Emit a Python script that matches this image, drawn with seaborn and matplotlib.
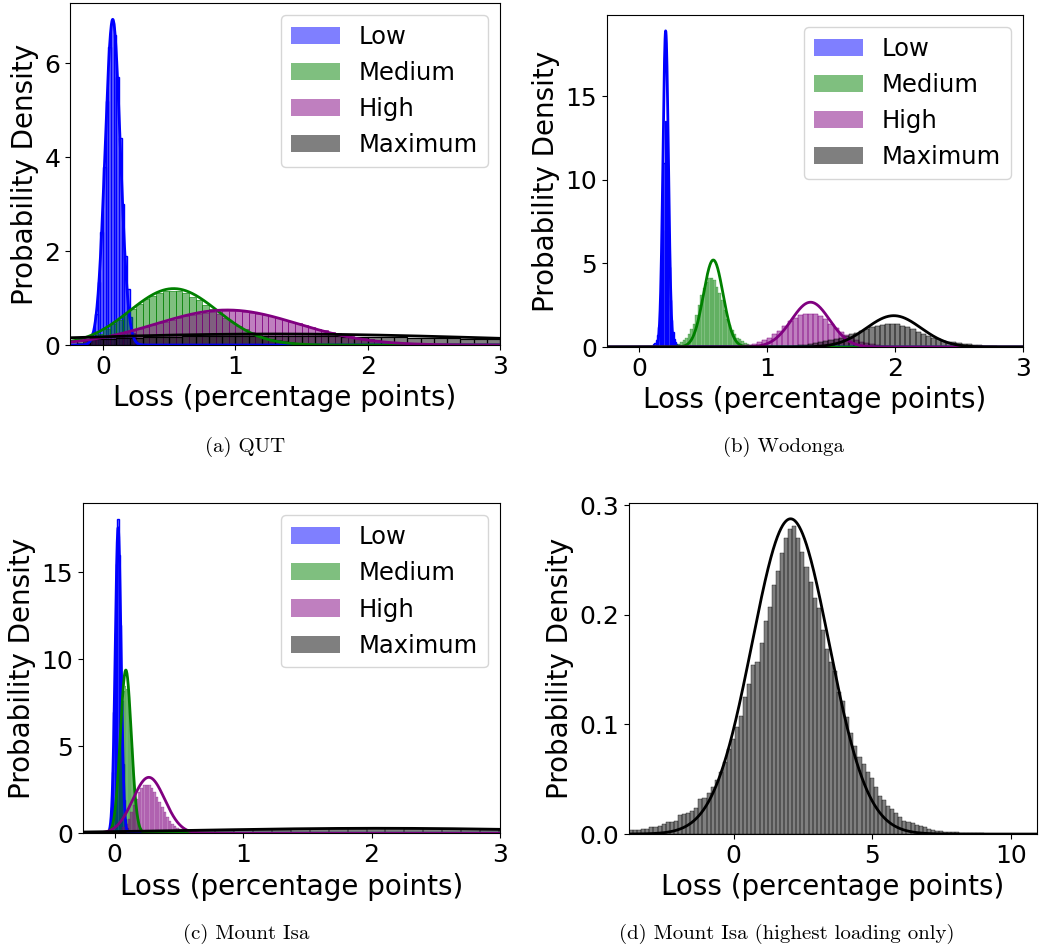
import numpy as np
import matplotlib
matplotlib.use('Agg')
import matplotlib.pyplot as plt
import seaborn as sns

levels = ['Low', 'Medium', 'High', 'Maximum']
colours = ['blue', 'green', 'purple', 'black']

# histogram data: first bin edge, bin width, density of each bin
# (a) QUT
qut_start = [-0.12, -0.20, -0.15, -0.30]
qut_width = [0.02, 0.05, 0.05, 0.10]
qut_low = [0.03, 0.10, 0.28, 0.65, 1.35, 2.4, 3.8, 5.2, 6.35, 6.85, 6.6, 5.7, 4.4, 3.0, 1.9, 1.2,
           0.6, 0.25, 0.08, 0.03]
qut_medium = [0.05, 0.09, 0.15, 0.24, 0.34, 0.44, 0.54, 0.65, 0.76, 0.87, 0.97, 1.05, 1.11, 1.15,
              1.16, 1.14, 1.10, 1.03, 0.95, 0.86, 0.76, 0.67, 0.58, 0.49, 0.41, 0.34, 0.28, 0.22,
              0.17, 0.13, 0.10, 0.08, 0.06, 0.04, 0.03, 0.02, 0.01]
qut_high = [0.08, 0.10, 0.13, 0.16, 0.19, 0.22, 0.26, 0.30, 0.34, 0.38, 0.42, 0.46, 0.50, 0.54,
            0.58, 0.61, 0.64, 0.67, 0.69, 0.71, 0.72, 0.73, 0.73, 0.72, 0.71, 0.69, 0.67, 0.64,
            0.61, 0.58, 0.54, 0.50, 0.46, 0.42, 0.38, 0.34, 0.31, 0.28, 0.25, 0.22, 0.19, 0.16,
            0.14, 0.12, 0.10, 0.08, 0.065, 0.05, 0.04, 0.03, 0.025, 0.02, 0.015]
qut_max = [0.10, 0.11, 0.12, 0.13, 0.14, 0.15, 0.16, 0.17, 0.18, 0.185, 0.19, 0.195, 0.20, 0.20,
           0.20, 0.20, 0.20, 0.198, 0.195, 0.19, 0.185, 0.18, 0.175, 0.17, 0.165, 0.16, 0.155,
           0.15, 0.145, 0.14, 0.135, 0.13, 0.125, 0.12]
qut_fit_mean = [0.073, 0.533, 0.937, 1.3]
qut_fit_sd = [0.0575, 0.332, 0.535, 1.7]

# (b) Wodonga
wod_start = [0.10, 0.28, 0.80, 1.20]
wod_width = [0.01, 0.02, 0.04, 0.04]
wod_low = [0.08, 0.15, 0.25, 0.4, 0.7, 1.2, 2.2, 4.0, 7.0, 11.0, 13.5, 12.0, 8.0, 4.8, 2.8, 1.6,
           0.9, 0.5, 0.3, 0.18, 0.1, 0.05]
wod_medium = [0.12, 0.18, 0.28, 0.4, 0.55, 0.8, 1.1, 1.4, 1.9, 2.5, 3.1, 3.5, 3.9, 4.1, 4.15, 4.0,
              3.6, 3.2, 2.8, 2.2, 1.7, 1.3, 1.0, 0.75, 0.55, 0.45, 0.33, 0.25, 0.18, 0.12, 0.08,
              0.05]
wod_high = [0.1, 0.14, 0.2, 0.3, 0.4, 0.55, 0.75, 0.95, 1.25, 1.55, 1.75, 1.92, 1.98, 2.0, 1.96,
            1.84, 1.65, 1.4, 1.15, 0.92, 0.72, 0.55, 0.42, 0.3, 0.22, 0.15, 0.1, 0.06, 0.04]
wod_max = [0.08, 0.1, 0.13, 0.17, 0.22, 0.27, 0.33, 0.4, 0.48, 0.56, 0.65, 0.75, 0.86, 0.98, 1.1,
           1.2, 1.28, 1.33, 1.36, 1.37, 1.35, 1.28, 1.18, 1.05, 0.92, 0.78, 0.65, 0.54, 0.45,
           0.38, 0.32, 0.27, 0.23, 0.19, 0.15, 0.12, 0.1, 0.08, 0.06, 0.04, 0.03]
wod_fit_mean = [0.208, 0.58, 1.34, 1.99]
wod_fit_sd = [0.0211, 0.0767, 0.149, 0.213]

# (c) Mount Isa, the Maximum series is also panel (d)
isa_start = [-0.06, -0.04, 0.02, -3.78]
isa_width = [0.01, 0.01, 0.02, 0.1472]
isa_low = [0.05, 0.2, 0.6, 1.5, 3.5, 7.0, 11.5, 15.5, 18.07, 16.0, 12.0, 7.5, 4.0, 1.9, 0.8, 0.3,
           0.1]
isa_medium = [0.1, 0.2, 0.4, 0.8, 1.4, 2.2, 3.2, 4.4, 5.6, 6.7, 7.6, 8.2, 8.45, 8.3, 7.8, 7.0, 6.0,
              4.9, 3.8, 2.8, 2.0, 1.3, 0.85, 0.5, 0.3, 0.15, 0.08]
isa_high = [0.1, 0.2, 0.35, 0.55, 0.85, 1.2, 1.6, 2.0, 2.35, 2.6, 2.75, 2.8, 2.75, 2.6, 2.4, 2.1,
            1.8, 1.5, 1.2, 0.95, 0.72, 0.55, 0.42, 0.32, 0.24, 0.18, 0.13, 0.09, 0.06, 0.04, 0.03]
isa_max = [0.0036, 0.0036, 0.004, 0.0043, 0.0046, 0.006, 0.0067, 0.0076, 0.009, 0.0106, 0.011,
           0.012, 0.0173, 0.018, 0.019, 0.021, 0.024, 0.032, 0.0325, 0.037, 0.0425, 0.049, 0.057,
           0.066, 0.078, 0.087, 0.098, 0.1076, 0.125, 0.137, 0.154, 0.157, 0.174, 0.194, 0.207,
           0.227, 0.24, 0.256, 0.27, 0.278, 0.281, 0.27, 0.257, 0.244, 0.23, 0.215, 0.206, 0.186,
           0.169, 0.157, 0.149, 0.13, 0.121, 0.107, 0.092, 0.08, 0.07, 0.064, 0.057, 0.051, 0.043,
           0.035, 0.031, 0.026, 0.023, 0.019, 0.016, 0.012, 0.011, 0.0097, 0.008, 0.007, 0.0067,
           0.005, 0.0036, 0.003, 0.0024, 0.002, 0.0018, 0.0015, 0.0015, 0.001, 0.001, 0.0008,
           0.0007, 0.0006, 0.0005, 0.0004, 0.0004, 0.0003, 0.0003, 0.0002, 0.0002, 0.0002, 0.0001,
           0.0001, 0.0001, 0.0001, 0.0001, 0.0001]
isa_fit_mean = [0.026, 0.086, 0.265, 2.05]
isa_fit_sd = [0.0227, 0.0425, 0.124, 1.387]

captions = ['(a) QUT', '(b) Wodonga', '(c) Mount Isa', '(d) Mount Isa (highest loading only)']


def draw_hist(ax, start, width, heights, colour, label=None):
    edges = start + width * np.arange(len(heights) + 1)
    centres = edges[:-1] + width / 2
    sns.histplot(x=list(centres), weights=list(heights), bins=list(edges), stat='count',
                 color=colour, alpha=0.5, edgecolor=colour, label=label, ax=ax)


def draw_fit(ax, mean, sd, colour, lo, hi):
    xs = np.linspace(lo, hi, 1500)
    ys = np.exp(-0.5 * ((xs - mean) / sd) ** 2) / (sd * np.sqrt(2 * np.pi))
    sns.lineplot(x=xs, y=ys, color=colour, linewidth=2, ax=ax)


def finish(ax):
    ax.set_xlabel('Loss (percentage points)', fontsize=20)
    ax.set_ylabel('Probability Density', fontsize=20)
    ax.tick_params(labelsize=18)


fig = plt.figure(figsize=(10.4, 9.52), dpi=100)
axes_pos = [[0.0673, 0.6376, 0.4135, 0.3592],
            [0.5837, 0.6355, 0.4000, 0.3487],
            [0.0795, 0.1247, 0.4013, 0.3466],
            [0.6048, 0.1239, 0.3923, 0.3477]]
axs = [fig.add_axes(p) for p in axes_pos]

sites = [
    (qut_start, qut_width, [qut_low, qut_medium, qut_high, qut_max], qut_fit_mean, qut_fit_sd),
    (wod_start, wod_width, [wod_low, wod_medium, wod_high, wod_max], wod_fit_mean, wod_fit_sd),
    (isa_start, isa_width, [isa_low, isa_medium, isa_high, isa_max], isa_fit_mean, isa_fit_sd),
]

for i, (starts, widths, hists, means, sds) in enumerate(sites):
    ax = axs[i]
    for j in range(4):
        draw_hist(ax, starts[j], widths[j], hists[j], colours[j], levels[j])
        draw_fit(ax, means[j], sds[j], colours[j], -0.25, 3)
    ax.set_xlim(-0.25, 3)
    ax.set_xticks([0, 1, 2, 3])
    finish(ax)
    leg = ax.legend(fontsize=17.5, loc='upper right')
    for h in leg.legend_handles:
        h.set_edgecolor('none')

axs[0].set_yticks([0, 2, 4, 6])
axs[1].set_yticks([0, 5, 10, 15])
axs[2].set_yticks([0, 5, 10, 15])

# (d) highest loading only
ax = axs[3]
lo = isa_start[3]
hi = isa_start[3] + isa_width[3] * len(isa_max)
draw_hist(ax, isa_start[3], isa_width[3], isa_max, 'black')
draw_fit(ax, isa_fit_mean[3], isa_fit_sd[3], 'black', lo, hi)
ax.set_xlim(lo, hi)
ax.set_xticks([0, 5, 10])
ax.set_yticks([0.0, 0.1, 0.2, 0.3])
finish(ax)

cap_xy = [(0.2356, 1 - 447 / 952), (0.7529, 1 - 447 / 952),
          (0.2365, 1 - 934 / 952), (0.7567, 1 - 934 / 952)]
for (cx, cy), text in zip(cap_xy, captions):
    fig.text(cx, cy, text, ha='center', va='center', fontsize=15, family='cmr10')

fig.savefig('out.png', dpi=100)
